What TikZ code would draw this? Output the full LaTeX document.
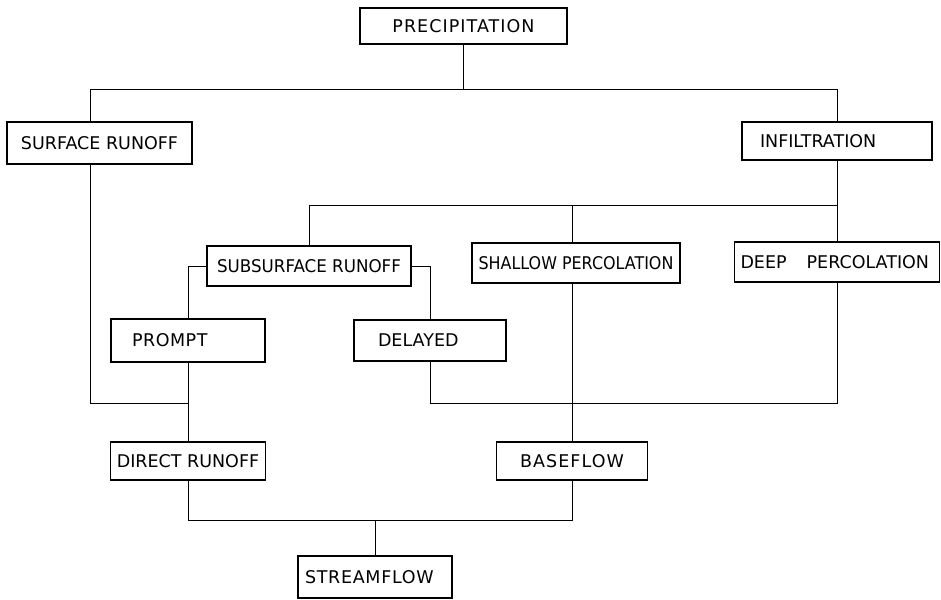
\documentclass[tikz,border=0pt]{standalone}
\usepackage{graphicx}
\usepackage{fontspec}
\newfontfamily\letterfont{DejaVu Sans}

\begin{document}
\begin{tikzpicture}[x=1pt, y=-1pt, line width=1pt,
		box/.style={draw, line width=1.6pt, inner sep=0pt, align=center, font=\letterfont\fontsize{17.5}{20}\selectfont},
		lefttext/.style 2 args={text width=#1, inner xsep=#2, align=left}]
	
	\useasboundingbox (0,0) rectangle (941,599);
	
	% ==================== 方框 ====================
	\node[box, minimum width=207, minimum height=36] (prec) at (463.5,26) {\addfontfeature{LetterSpace=6}PRECIPITATION};
	\node[box, minimum width=185, minimum height=42] (surf) at (99.5,143) {SURFACE RUNOFF};
	\node[box, lefttext={154}{18}, minimum height=38] (infil) at (837,141) {INFILTRATION};
	
	\node[box, minimum width=204, minimum height=40] (subsurf) at (309,266) {\scalebox{0.955}[1]{SUBSURFACE RUNOFF}};
	\node[box, minimum width=208, minimum height=40] (shallow) at (576,263) {\scalebox{0.91}[1]{SHALLOW PERCOLATION}};
	\node[box, lefttext={193}{6}, minimum height=40] (deep) at (837,262) {DEEP\hspace{20pt}PERCOLATION};
	
	\node[box, lefttext={112}{21}, minimum height=43] (prompt) at (188,340.5) {\addfontfeature{LetterSpace=3}PROMPT};
	\node[box, lefttext={104}{24}, minimum height=41] (delayed) at (430,340.5) {DELAYED};
	
	\node[box, minimum width=155, minimum height=38] (direct) at (188,461) {DIRECT RUNOFF};
	\node[box, minimum width=151, minimum height=38] (base) at (572,461) {\addfontfeature{LetterSpace=6}BASEFLOW};
	\node[box, lefttext={140}{7}, minimum height=42] (stream) at (375,577) {\addfontfeature{LetterSpace=4}STREAMFLOW};
	
	% ==================== 连线 ====================
	\coordinate (topbus) at (0,90);
	\coordinate (midbus) at (0,205);
	\coordinate (lowbus) at (0,403);
	\coordinate (botbus) at (0,520);
	
	% 降水 -> 地表径流 / 下渗
	\draw (prec) -- (prec |- topbus);
	\draw ([xshift=-9.5]surf.north) |- (infil.north |- topbus) -- (infil.north);
	
	% 下渗 -> 壤中流 / 浅层 / 深层
	\draw (infil.south) -- (deep.north);
	\draw (subsurf.north) |- (infil.south |- midbus);
	\draw ([xshift=-4]shallow.north) -- ([xshift=-4]shallow.north |- midbus);
	
	% 壤中流 -> 快速 / 滞后
	\draw (subsurf.west) -| (prompt.north);
	\draw (subsurf.east) -| (delayed.north);
	
	% 汇流
	\draw ([xshift=-9.5]surf.south) |- (prompt.south |- lowbus);
	\draw (prompt.south) -- (direct.north);
	\draw (delayed.south) |- (deep.south |- lowbus) -- (deep.south);
	\draw ([xshift=-4]shallow.south) -- (base.north);
	\draw (direct.south) |- (base.south |- botbus) -- (base.south);
	\draw (stream.north) -- (stream.north |- botbus);
	
\end{tikzpicture}
\end{document}
